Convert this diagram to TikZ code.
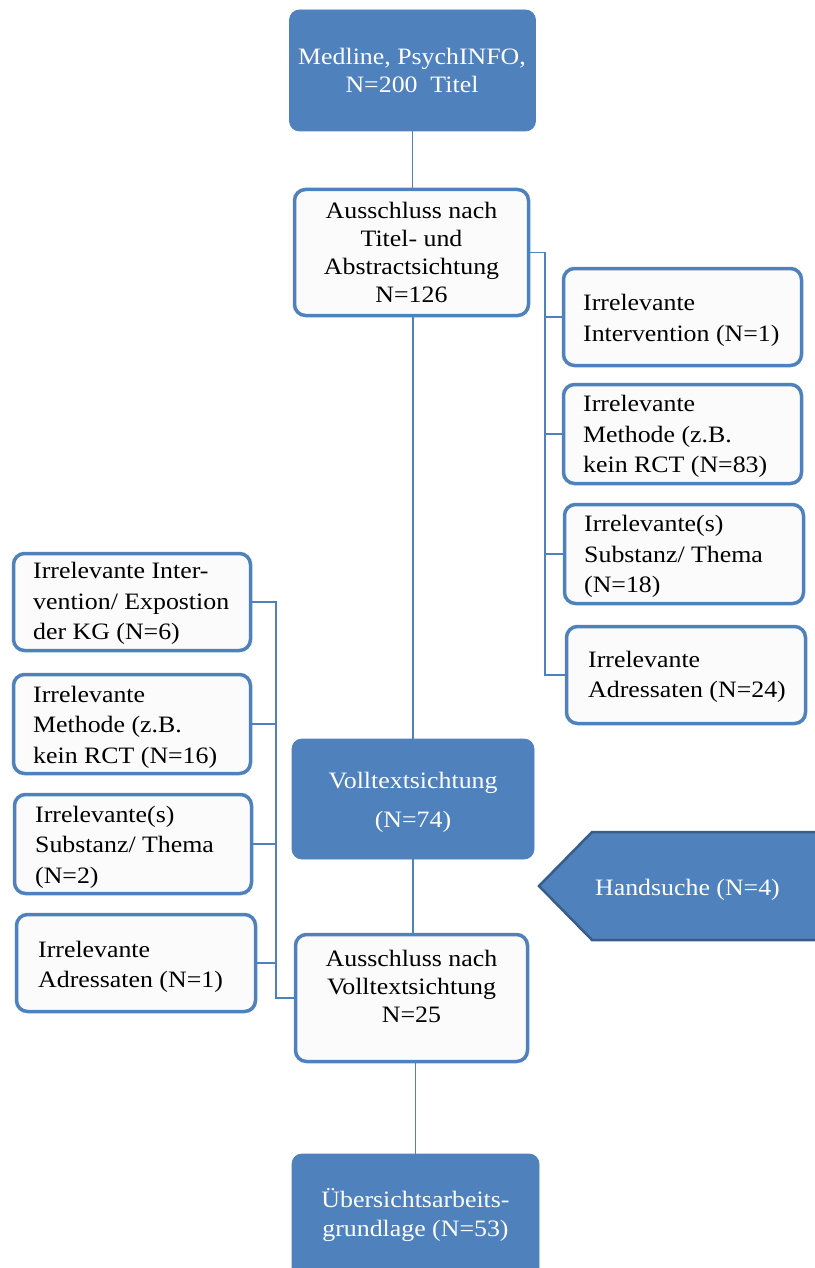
\documentclass[tikz,border=0pt]{standalone}
\usepackage{fontspec}
\setmainfont{Liberation Serif}[FakeStretch=1.1]
\usetikzlibrary{calc}
\definecolor{ablue}{HTML}{4F81BD}
\definecolor{dblue}{HTML}{385D8A}
\definecolor{boxfill}{HTML}{FBFBFB}
\begin{document}
\begin{tikzpicture}[x=1pt,y=-1pt,
  conn/.style={draw=ablue, line width=1.8pt},
  bluebox/.style={fill=ablue, draw=ablue, line width=0.8pt, rounded corners=10pt, inner sep=0pt},
  whitebox/.style={fill=boxfill, draw=ablue, line width=3.5pt, rounded corners=11pt, inner sep=0pt},
  ctext/.style={inner sep=0pt, align=center, font=\fontsize{23.5}{28}\selectfont},
  ltext/.style={inner sep=0pt, align=left, anchor=west, font=\fontsize{23.5}{30.5}\selectfont},
]
\useasboundingbox (0,0) rectangle (814,1268);

% main column
\node[bluebox, minimum width=246pt, minimum height=121pt] (top) at (412.5,70.5) {};
\node[ctext, text=white] (toptxt) at (412,70.5) {Medline, PsychINFO,\\N=200~~Titel};

\node[whitebox, minimum width=234pt, minimum height=126pt] (a1) at (411.5,252.5) {};
\node[ctext] (a1txt) at (411.5,252) {Ausschluss nach\\Titel- und\\Abstractsichtung\\N=126};

\node[bluebox, minimum width=242pt, minimum height=120pt] (vt) at (413,799) {};
\node[ctext, text=white, font=\fontsize{23.5}{39}\selectfont] (vttxt) at (413,802) {Volltextsichtung\\(N=74)};

\node[whitebox, minimum width=232pt, minimum height=127pt] (a2) at (411.5,998) {};
\node[ctext] (a2txt) at (411.5,986.5) {Ausschluss nach\\Volltextsichtung\\N=25};

\node[bluebox, minimum width=247pt, minimum height=140pt] (ue) at (415.5,1224) {};
\node[ctext, text=white, font=\fontsize{23.5}{29}\selectfont] (uetxt) at (415.5,1215) {Übersichtsarbeits-\\grundlage (N=53)};

% right boxes
\node[whitebox, minimum width=238pt, minimum height=97pt] (r1) at (682.5,317) {};
\node[ltext] (r1txt) at (583,320.5) {Irrelevante\\Intervention (N=1)};
\node[whitebox, minimum width=238pt, minimum height=99pt] (r2) at (682.5,434) {};
\node[ltext] (r2txt) at (583,436.5) {Irrelevante\\Methode (z.B.\\kein RCT (N=83)};
\node[whitebox, minimum width=239pt, minimum height=99pt] (r3) at (684,554) {};
\node[ltext] (r3txt) at (584,556.5) {Irrelevante(s)\\Substanz/ Thema\\(N=18)};
\node[whitebox, minimum width=239pt, minimum height=97pt] (r4) at (686,675) {};
\node[ltext] (r4txt) at (588,677) {Irrelevante\\Adressaten (N=24)};

% left boxes
\node[whitebox, minimum width=237pt, minimum height=97pt] (l1) at (132,602) {};
\node[ltext] (l1txt) at (33,603.5) {Irrelevante Inter-\\vention/ Expostion\\der KG (N=6)};
\node[whitebox, minimum width=237pt, minimum height=99pt] (l2) at (132,724) {};
\node[ltext] (l2txt) at (33,727) {Irrelevante\\Methode (z.B.\\kein RCT (N=16)};
\node[whitebox, minimum width=237pt, minimum height=99pt] (l3) at (133,844) {};
\node[ltext] (l3txt) at (35,847) {Irrelevante(s)\\Substanz/ Thema\\(N=2)};
\node[whitebox, minimum width=239pt, minimum height=97pt] (l4) at (136,963) {};
\node[ltext] (l4txt) at (38,967) {Irrelevante\\Adressaten (N=1)};

% Handsuche arrow
\draw[fill=ablue, draw=dblue, line width=2.5pt, line join=miter] (539,886) -- (592,832) -- (840,832) -- (840,940) -- (592,940) -- cycle;
\node[ctext, text=white] (hs) at (687.5,889.5) {Handsuche (N=4)};

% connectors (vertical)
\draw[conn] (top.south) -- (top.south |- a1.north);
\draw[conn] (vt.north |- a1.south) -- (vt.north);
\draw[conn] (vt.south) -- (vt.south |- a2.north);
\draw[conn] (ue.north |- a2.south) -- (ue.north);

\coordinate (rb) at (545,0);
\draw[conn] (a1.east) -- (a1.east -| rb) -- (r4.west -| rb) -- (r4.west);
\foreach \n in {r1,r2,r3} \draw[conn] (\n.west -| rb) -- (\n.west);

\coordinate (lb) at (276,0);
\draw[conn] (l1.east) -- (l1.east -| lb) -- (a2.west -| lb) -- (a2.west);
\foreach \n in {l2,l3,l4} \draw[conn] (\n.east) -- (\n.east -| lb);
\end{tikzpicture}
\end{document}
